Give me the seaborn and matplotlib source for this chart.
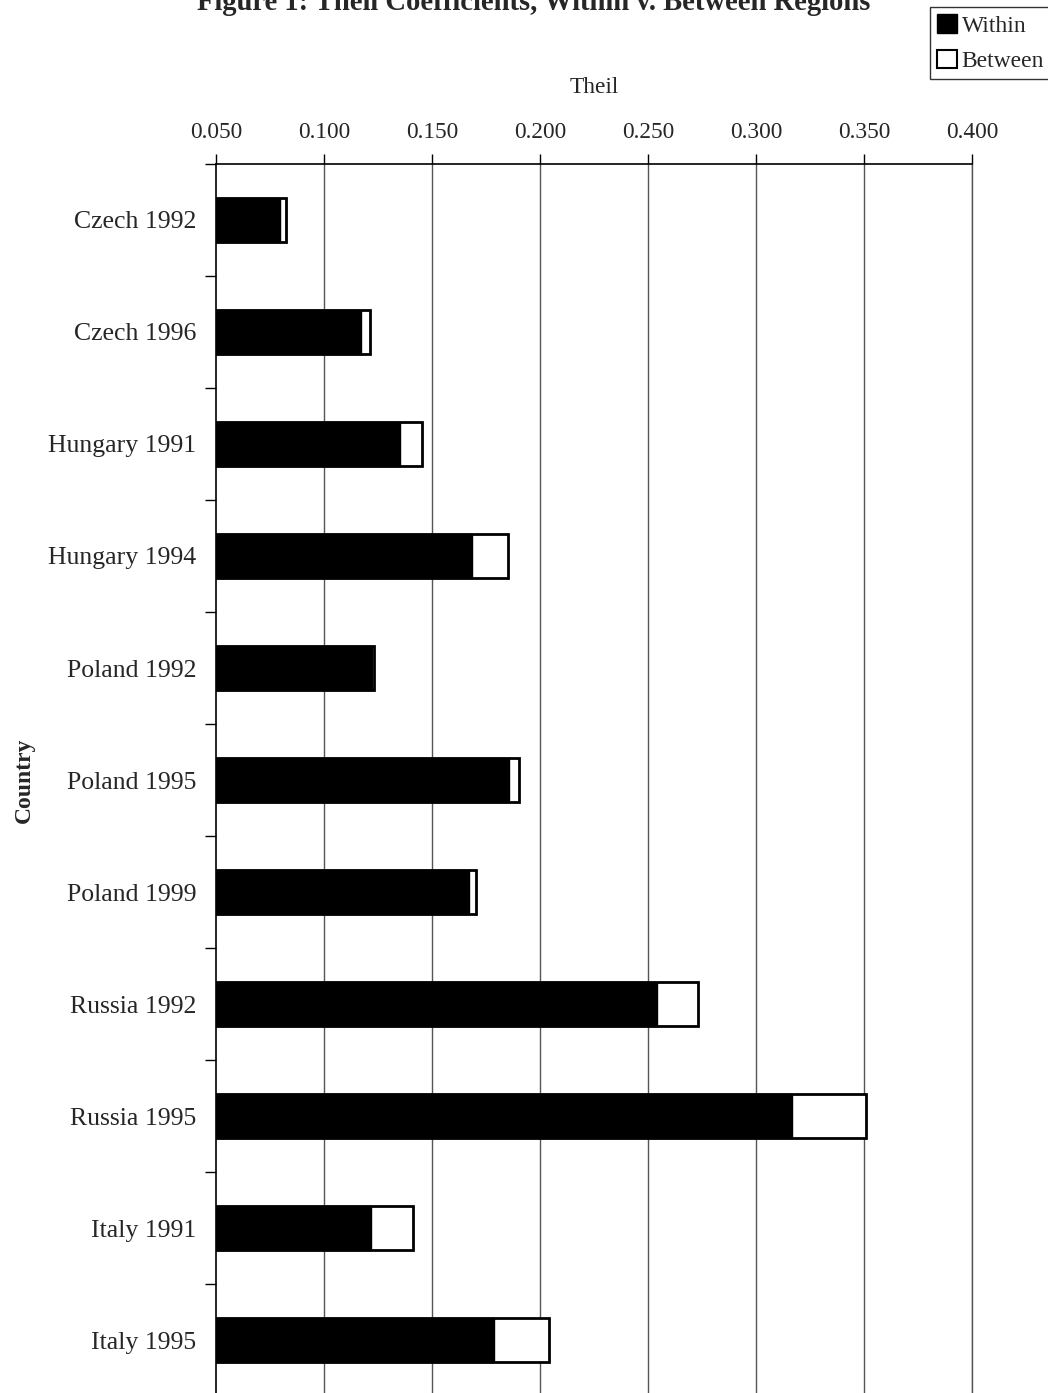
import numpy as np
import pandas as pd
from matplotlib import pyplot as plt
from matplotlib.patches import Patch
import seaborn as sns

countries = ['Czech 1992', 'Czech 1996', 'Hungary 1991', 'Hungary 1994',
             'Poland 1992', 'Poland 1995', 'Poland 1999', 'Russia 1992',
             'Russia 1995', 'Italy 1991', 'Italy 1995']
within = [0.0796, 0.1172, 0.1352, 0.1683, 0.1222, 0.1858, 0.1672,
          0.2542, 0.3167, 0.1217, 0.1786]
between = [0.0028, 0.0039, 0.0104, 0.0167, 0.0009, 0.0045, 0.0032,
           0.0189, 0.0344, 0.0196, 0.0254]
x_ticks = [0.05, 0.10, 0.15, 0.20, 0.25, 0.30, 0.35, 0.40]


def draw():
    data = pd.DataFrame({'Country': countries, 'Within': within, 'Between': between})
    data['Total'] = data['Within'] + data['Between']

    sns.set_style('white')
    plt.rcParams['font.family'] = ['Liberation Serif', 'DejaVu Serif']
    plt.rcParams['font.size'] = 16

    fig = plt.figure(figsize=(10.48, 13.93), dpi=100)
    ax = fig.add_axes([0.2061, -0.0022, 0.7214, 0.8845])

    for x in x_ticks[1:]:
        ax.axvline(x, color='#555555', lw=1, zorder=0)

    sns.barplot(data=data, y='Country', x='Total', order=countries, orient='h',
                color='white', edgecolor='black', linewidth=2, width=0.4,
                saturation=1, ax=ax, zorder=2)
    sns.barplot(data=data, y='Country', x='Within', order=countries, orient='h',
                color='black', edgecolor='black', linewidth=1, width=0.4,
                saturation=1, ax=ax, zorder=3)

    ax.set_xlim(0.05, 0.40)
    ax.set_ylim(len(countries) - 0.5, -0.5)
    ax.xaxis.tick_top()
    ax.xaxis.set_label_position('top')
    ax.set_xticks(x_ticks)
    ax.set_xticklabels(['{:.3f}'.format(v) for v in x_ticks])
    ax.tick_params(axis='x', which='major', direction='out', length=7,
                   width=1, color='black', pad=8, labelsize=16.8)
    ax.set_yticks(np.arange(-0.5, len(countries), 1), minor=True)
    ax.tick_params(axis='y', which='minor', direction='out', length=8,
                   width=1, color='black', left=True)
    ax.tick_params(axis='y', which='major', length=0, pad=14, labelsize=18.5)

    for side in ['left', 'top', 'bottom']:
        ax.spines[side].set_color('black')
        ax.spines[side].set_linewidth(1.2)
    ax.spines['right'].set_color('#555555')
    ax.spines['right'].set_linewidth(1)

    ax.set_xlabel('Theil', fontsize=16.8, labelpad=21)
    ax.set_ylabel('Country', fontsize=17, fontweight='bold')
    ax.yaxis.set_label_coords(-0.24, 0.5)

    fig.text(0.509, 1 - 10 / 1393, 'Figure 1: Theil Coefficients, Within v. Between Regions',
             ha='center', va='baseline', fontsize=20.6, fontweight='bold')

    handles = [Patch(facecolor='black', edgecolor='black', label='Within'),
               Patch(facecolor='white', edgecolor='black', linewidth=1.5, label='Between')]
    fig.legend(handles=handles, loc='upper right', bbox_to_anchor=(1.003, 0.995),
               frameon=True, fancybox=False, edgecolor='#333333', framealpha=1,
               handlelength=0.85, handleheight=0.85, handletextpad=0.2,
               borderpad=0.3, labelspacing=0.55, borderaxespad=0, fontsize=17)

    fig.savefig('out.png', dpi=100)


if __name__ == '__main__':
    draw()
